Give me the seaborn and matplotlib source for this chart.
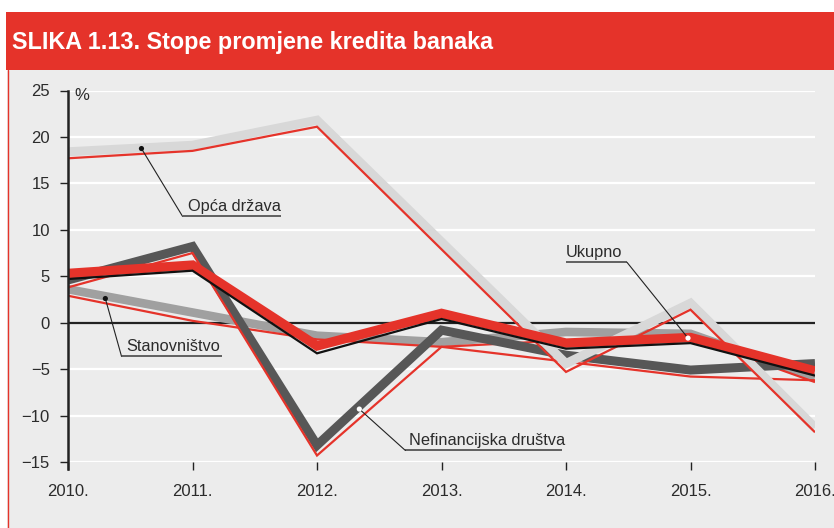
import matplotlib
matplotlib.use("Agg")
import matplotlib.pyplot as plt
import seaborn as sns
import pandas as pd
from matplotlib.patches import Rectangle
from matplotlib.lines import Line2D

# ---------------- data ----------------
years = [2010, 2011, 2012, 2013, 2014, 2015, 2016]
year_labels = ["2010.", "2011.", "2012.", "2013.", "2014.", "2015.", "2016."]
y_ticks = [25, 20, 15, 10, 5, 0, -5, -10, -15]

opca_thick = [18.4, 19.1, 21.8, 8.7, -4.4, 2.1, -11.3]
opca_thin = [17.7, 18.5, 21.1, 7.9, -5.3, 1.4, -11.8]
nfd_thick = [4.6, 8.2, -13.2, -0.8, -3.5, -5.1, -4.4]
nfd_thin = [3.8, 7.5, -14.3, -2.6, -4.2, -5.8, -6.2]
stan_thick = [3.6, 1.1, -1.4, -2.1, -1.0, -1.2, -5.9]
stan_thin = [2.9, 0.2, -1.8, -2.6, -1.9, -1.6, -6.4]
uk_thick = [5.3, 6.2, -2.5, 1.0, -2.2, -1.6, -5.2]
uk_thin = [4.7, 5.6, -3.3, 0.4, -2.8, -2.2, -5.7]

title = "SLIKA 1.13. Stope promjene kredita banaka"

# ---------------- style ----------------
RED = "#e5332a"
BG = "#ececec"
LIGHT = "#d8d8d8"
MID = "#a0a0a0"
DARK = "#575757"
TXT = "#2b2b2b"

sns.set_style("white")
plt.rcParams["font.family"] = ["Liberation Sans", "DejaVu Sans"]

W, H = 834, 528
fig = plt.figure(figsize=(W / 100, H / 100), dpi=100)
fig.patch.set_facecolor("white")

# panel background and header
fig.patches.append(Rectangle((7 / W, 0), 1 - 7 / W, 1 - 70 / H, transform=fig.transFigure,
                             facecolor=BG, edgecolor="none", zorder=-2))
fig.add_artist(Line2D([7.5 / W, 7.5 / W], [0, 1 - 70 / H], transform=fig.transFigure,
                      color=RED, lw=1.0, zorder=-1))
fig.patches.append(Rectangle((6 / W, 1 - 70 / H), 1 - 6 / W, 58 / H, transform=fig.transFigure,
                             facecolor=RED, edgecolor="none", zorder=-1))
fig.text(12 / W, 1 - 43 / H, title, transform=fig.transFigure, color="white",
         fontsize=16.8, fontweight="bold", va="center", ha="left")

left, right = 68 / W, 815 / W
bottom, top = 1 - 462 / H, 1 - 90.5 / H
ax = fig.add_axes([left, bottom, right - left, top - bottom])
ax.set_zorder(2)
ax.set_facecolor(BG)
ax.patch.set_alpha(0)

df = pd.DataFrame({
    "year": years,
    "opca_thick": opca_thick, "opca_thin": opca_thin,
    "nfd_thick": nfd_thick, "nfd_thin": nfd_thin,
    "stan_thick": stan_thick, "stan_thin": stan_thin,
    "uk_thick": uk_thick, "uk_thin": uk_thin,
})

def draw(col, color, lw, z):
    sns.lineplot(data=df, x="year", y=col, ax=ax, color=color, lw=lw, sort=False,
                 zorder=z, solid_joinstyle="miter", solid_capstyle="butt")

draw("stan_thick", MID, 6.2, 3)
draw("stan_thin", RED, 1.6, 3.1)
draw("nfd_thick", DARK, 6.5, 4)
draw("nfd_thin", RED, 1.6, 4.1)
draw("opca_thick", LIGHT, 6.5, 5)
draw("opca_thin", RED, 1.6, 5.1)
draw("uk_thick", RED, 6.8, 6)
draw("uk_thin", "#111111", 1.6, 6.1)

ax.set_xlim(2010, 2016)
ax.set_ylim(-15, 25)
ax.set_xlabel("")
ax.set_ylabel("")

# grid lines (white) and zero line
for v in y_ticks:
    if v == 0:
        ax.axhline(0, color="#222222", lw=1.6, zorder=2)
    else:
        ax.axhline(v, color="white", lw=1.6, zorder=1)

for s in ["top", "right", "bottom"]:
    ax.spines[s].set_visible(False)
ax.spines["left"].set_color("#222222")
ax.spines["left"].set_linewidth(1.8)
ax.spines["left"].set_bounds(-15.8, 25)
ax.spines["left"].set_zorder(7)

ax.set_yticks(y_ticks)
ax.set_yticklabels([str(v).replace("-", "\u2212") for v in y_ticks])
ax.set_xticks(years)
ax.set_xticklabels(year_labels)
ax.tick_params(axis="y", direction="out", length=6, width=1.0, color="#222222",
               pad=7, labelsize=12, labelcolor=TXT, left=True)
ax.tick_params(axis="x", direction="out", length=6, width=1.0, color="#222222",
               pad=10, labelsize=12, labelcolor=TXT, bottom=True)

ax.text(2010.05, 24.5, "%", fontsize=12, color=TXT, ha="left", va="center")

# ---------------- labels with leaders ----------------
def label(text, tx, ty, ux0, ux1, uy, dot, dot_fc, leader_end):
    ax.text(tx, ty, text, fontsize=11.8, color=TXT, ha="left", va="bottom", zorder=9)
    ax.plot([ux0, ux1], [uy, uy], color="#555555", lw=1.3, zorder=9, solid_capstyle="butt")
    ax.plot([dot[0], leader_end[0]], [dot[1], leader_end[1]], color="#222222", lw=0.8, zorder=9)
    ax.scatter([dot[0]], [dot[1]], s=14, color=dot_fc, edgecolor="none", zorder=10)

label("Opća država", 2010.96, 11.75, 2010.92, 2011.71, 11.45,
      (2010.59, 18.75), "#111111", (2010.92, 11.45))
label("Stanovništvo", 2010.47, -3.35, 2010.43, 2011.24, -3.63,
      (2010.30, 2.6), "#111111", (2010.43, -3.63))
label("Nefinancijska društva", 2012.74, -13.5, 2012.71, 2013.97, -13.76,
      (2012.34, -9.3), "white", (2012.71, -13.76))
label("Ukupno", 2014.0, 6.8, 2014.0, 2014.49, 6.5,
      (2014.98, -1.66), "white", (2014.49, 6.5))

fig.savefig("out.png", dpi=100, facecolor=fig.get_facecolor())
